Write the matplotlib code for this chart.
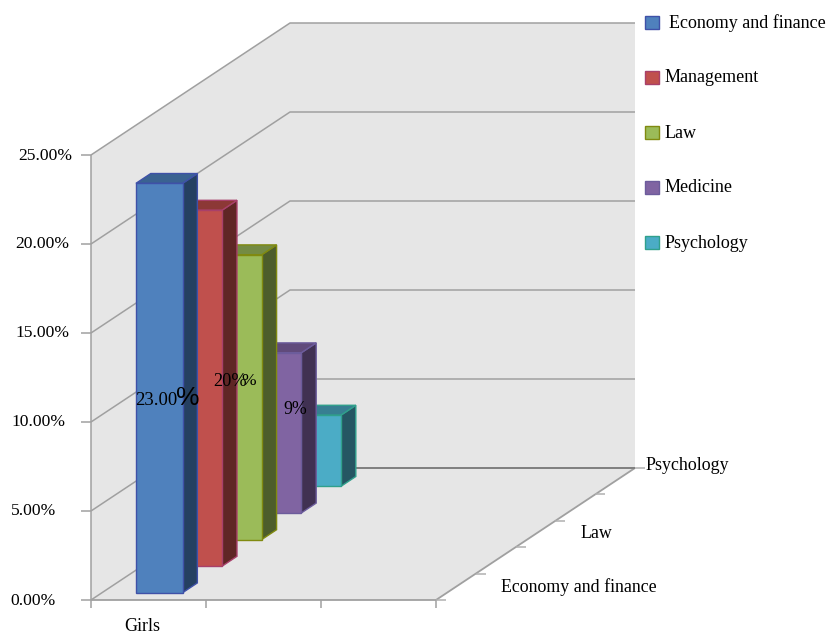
import matplotlib
matplotlib.use('Agg')
import matplotlib.pyplot as plt
from matplotlib.patches import Polygon, Rectangle
from matplotlib.transforms import Affine2D

plt.rcParams['font.family'] = ['Liberation Serif', 'DejaVu Serif']

subjects = ['Economy and finance', 'Management', 'Law', 'Medicine', 'Psychology']
girls = [23, 20, 16, 9, 4]
value_ticks = [0, 5, 10, 15, 20, 25]
value_tick_labels = ['0.00%', '5.00%', '10.00%', '15.00%', '20.00%', '25.00%']
category_labels = ['Girls']
depth_labels = {0: 'Economy and finance', 2: 'Law', 4: 'Psychology'}

front_colors = ['#4F81BD', '#C0504D', '#9BBB59', '#8064A2', '#4BACC6']
side_colors = ['#254061', '#5F2625', '#4D5D2B', '#403152', '#255663']
top_colors = ['#3A6291', '#8C3836', '#748B43', '#604A7B', '#377F92']
edge_colors = ['#3F51A8', '#A8406A', '#808A10', '#6C5C9C', '#30A08C']

# scales: pixels per category, per percent, and per series step in depth
CAT_PX = 115.0
VAL_PX = 17.8
DEPTH_DX = 39.8
DEPTH_DY = 26.4
GRID = '#A0A0A0'

W, H = 828, 632
ORIGIN_X, ORIGIN_Y = 91, 600


def proj(x, v, d=0.0):
    """Oblique projection of (category, value, depth) onto the 2D axes"""
    return x + d * DEPTH_DX / CAT_PX, v + d * DEPTH_DY / VAL_PX


def face(ax, pts, **kw):
    ax.add_patch(Polygon([proj(*p) for p in pts], closed=True, **kw))


def line3(ax, pts, color=GRID, lw=1.1):
    xs, ys = zip(*[proj(*p) for p in pts])
    ax.plot(xs, ys, color=color, lw=lw, solid_capstyle='butt', zorder=2)


fig = plt.figure(figsize=(W / 100, H / 100), dpi=100)
ax = fig.add_axes([0, 0, 1, 1])
ax.set_xlim(-ORIGIN_X / CAT_PX, (W - ORIGIN_X) / CAT_PX)
ax.set_ylim((ORIGIN_Y - H) / VAL_PX, ORIGIN_Y / VAL_PX)
ax.axis('off')

# pixel coordinates with the origin at the top left, used for the text
px = Affine2D().scale(1, -1).translate(0, H)

n_cat = 3
n_depth = len(subjects)
top = value_ticks[-1]
wall = '#E6E6E6'

# walls and floor
face(ax, [(0, 0, 0), (0, top, 0), (0, top, n_depth), (0, 0, n_depth)], fc=wall, ec='none', zorder=1)
face(ax, [(0, 0, n_depth), (0, top, n_depth), (n_cat, top, n_depth), (n_cat, 0, n_depth)], fc=wall, ec='none', zorder=1)
face(ax, [(0, 0, 0), (n_cat, 0, 0), (n_cat, 0, n_depth), (0, 0, n_depth)], fc=wall, ec='none', zorder=1)

# gridlines running along the side wall and the back wall
for v in value_ticks:
    line3(ax, [(0, v, 0), (0, v, n_depth), (n_cat, v, n_depth)])
    line3(ax, [(-10 / CAT_PX, v, 0), (0, v, 0)])

# axis lines and ticks
line3(ax, [(0, 0, 0), (0, top, 0)])
line3(ax, [(0, -8 / VAL_PX, 0), (0, 0, 0)])
line3(ax, [(0, 0, 0), (n_cat, 0, 0), (n_cat, 0, n_depth)], lw=1.3)
line3(ax, [(0, 0, n_depth), (n_cat, 0, n_depth)], color='#808080', lw=1.4)
for c in range(1, n_cat + 1):
    line3(ax, [(c, -8 / VAL_PX, 0), (c, 0, 0)])
for d in range(n_depth + 1):
    line3(ax, [(n_cat, 0, d), (n_cat + 10 / CAT_PX, 0, d)], color='#B0B0B0')

# bars, back row first so the front rows cover them
bar_x = 34.0 / CAT_PX
bar_w = 46.6 / CAT_PX
bar_d = 0.372
bar_d0 = 0.275
bar_step = 1.008
bar_drift = 0.5 / CAT_PX
for i in reversed(range(len(girls))):
    v = girls[i]
    x0 = bar_x - i * bar_drift
    x1 = x0 + bar_w
    d0 = i * bar_step + bar_d0
    d1 = d0 + bar_d
    kw = dict(ec=edge_colors[i], lw=1.0, joinstyle='miter', zorder=3 + (n_depth - i))
    face(ax, [(x1, 0, d0), (x1, v, d0), (x1, v, d1), (x1, 0, d1)], fc=side_colors[i], **kw)
    face(ax, [(x0, v, d0), (x1, v, d0), (x1, v, d1), (x0, v, d1)], fc=top_colors[i], **kw)
    face(ax, [(x0, 0, d0), (x1, 0, d0), (x1, v, d0), (x0, v, d0)], fc=front_colors[i], **kw)

FS = 12.6


def label(x, y, s, ha='left', size=FS, **kw):
    ax.text(x, y, s, transform=px, ha=ha, va='baseline', fontsize=size, color='black',
            zorder=20, clip_on=False, **kw)


# value axis labels
tick_right = [56, 56, 65, 69.5, 69.5, 72.7]
tick_base = [605, 515, 425.5, 337, 247.5, 160]
for s, r, b in zip(value_tick_labels, tick_right, tick_base):
    label(r, b, s, ha='right')

label(142, 631, category_labels[0], ha='center', size=13.0)

# depth axis labels
label(579, 592, depth_labels[0], ha='center', size=12.9)
label(596.5, 538, depth_labels[2], ha='center', size=12.9)
label(645, 470, depth_labels[4], size=12.9)

# data labels
label(135, 405, f'{girls[0]:.2f}', size=13.4)
label(176, 405, '%', size=19, family='Liberation Sans')
label(213, 386, f'{girls[1]}%', size=13.2)
label(241, 385, '%', size=12.6)
label(283, 414.5, f'{girls[3]}%', size=12.8)

# legend
legend_x = [669, 665, 665, 665, 665]
for i, name in enumerate(subjects):
    y = 16 + 55 * i
    ax.add_patch(Rectangle((644.8, y), 14, 12.6, transform=px, fc=front_colors[i],
                           ec=edge_colors[i], lw=1.0, zorder=20))
    label(legend_x[i], y + 11.5, name, size=13.0)

fig.savefig('out.png', dpi=100, facecolor='white')
plt.close(fig)
